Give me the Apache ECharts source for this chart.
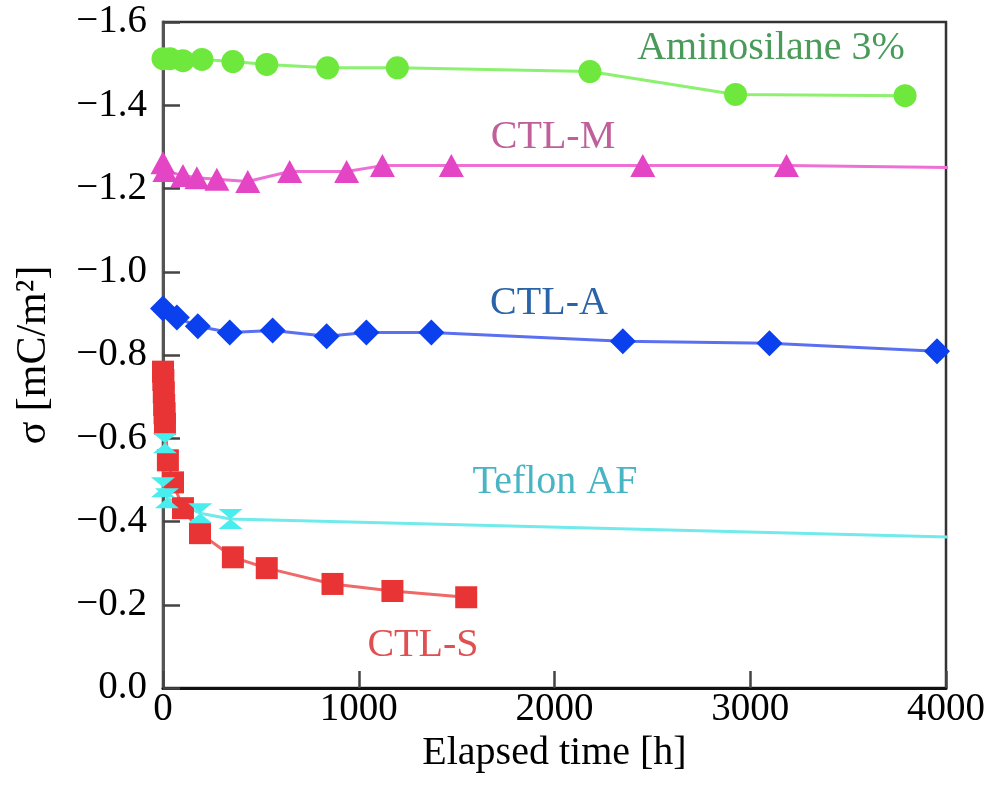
<!DOCTYPE html>
<html style="height: 100%">
<head>
<meta charset="utf-8">
<script src="https://cdn.jsdelivr.net/npm/echarts@6/dist/echarts.min.js"></script>
</head>
<body style="height: 100%; margin: 0; background: #fff">
<div id="container" style="width: 988px; height: 800px"></div>
<script>
// elapsed time [h] and surface charge [mC/m2] per coating
var amTime = [0, 36, 102, 199, 357, 530, 841, 1197, 2181, 2925, 3791];
var amSigma = [-1.512, -1.512, -1.507, -1.51, -1.505, -1.498, -1.49, -1.49, -1.481, -1.426, -1.423];

var ctlMTime = [0, 10, 102, 173, 275, 433, 647, 938, 1121, 1473, 2451, 3185, 4400];
var ctlMSigma = [-1.262, -1.243, -1.231, -1.226, -1.222, -1.217, -1.241, -1.241, -1.255, -1.255, -1.255, -1.255, -1.248];

var ctlATime = [0, 71, 178, 341, 560, 836, 1039, 1371, 2349, 3098, 3954];
var ctlASigma = [-0.912, -0.89, -0.869, -0.854, -0.859, -0.845, -0.854, -0.854, -0.833, -0.828, -0.809];

var teflonTime = [10, 0, 20, 190, 345, 4400];
var teflonSigma = [-0.588, -0.482, -0.456, -0.42, -0.406, -0.358];

var ctlSTime = [0, 2, 4, 6, 8, 10, 25, 51, 102, 189, 357, 530, 866, 1172, 1549];
var ctlSSigma = [-0.76, -0.74, -0.71, -0.68, -0.66, -0.635, -0.547, -0.494, -0.432, -0.372, -0.314, -0.288, -0.25, -0.233, -0.218];

var xTicks = [0, 1000, 2000, 3000, 4000];
var yTicks = [-1.6, -1.4, -1.2, -1.0, -0.8, -0.6, -0.4, -0.2, 0.0];

function zip(t, s) {
  var res = [];
  for (var i = 0; i < t.length; i++) res.push([t[i], s[i]]);
  return res;
}

var font = '"Liberation Serif", "DejaVu Serif", serif';
var hourglass = 'path://M0,0 L20,0 L10,10 L20,20 L0,20 L10,10 Z';

var chart = echarts.init(document.getElementById('container'));

function lineSeries(name, data, symbol, size, mColor, lColor) {
  return {
    name: name,
    type: 'line',
    data: data,
    symbol: symbol,
    symbolSize: size,
    showAllSymbol: true,
    clip: true,
    itemStyle: { color: mColor },
    lineStyle: { color: lColor, width: 3 },
    animation: false
  };
}

var labelStyle = function (text, x, y, color) {
  return {
    type: 'text', x: x, y: y,
    style: {
      text: text, fill: color, font: '40px ' + font,
      textAlign: 'center', textVerticalAlign: 'middle'
    }
  };
};

var option = {
  backgroundColor: '#ffffff',
  grid: {
    left: 163, right: 40, top: 22, bottom: 112,
    show: true, borderColor: '#333', borderWidth: 2.5
  },
  xAxis: {
    type: 'value',
    min: xTicks[0], max: xTicks[xTicks.length - 1], interval: 1000,
    name: 'Elapsed time [h]',
    nameLocation: 'middle',
    nameGap: 28,
    nameTextStyle: { fontFamily: font, fontSize: 40, color: '#000' },
    axisLine: { lineStyle: { color: '#111', width: 3 } },
    axisTick: { inside: true, length: 17, lineStyle: { color: '#444', width: 2.5 } },
    axisLabel: {
      fontFamily: font, fontSize: 39, color: '#000', margin: 2,
      formatter: function (v) { return String(v); }
    },
    splitLine: { show: false }
  },
  yAxis: {
    type: 'value',
    inverse: true,
    min: yTicks[0], max: yTicks[yTicks.length - 1], interval: 0.2,
    name: 'σ [mC/m²]',
    nameLocation: 'middle',
    nameGap: 108,
    nameTextStyle: { fontFamily: font, fontSize: 42, color: '#000' },
    axisLine: { lineStyle: { color: '#555', width: 3 } },
    axisTick: { inside: true, length: 17, lineStyle: { color: '#444', width: 2.5 } },
    axisLabel: {
      fontFamily: font, fontSize: 39, color: '#000', margin: 16,
      formatter: function (v) {
        if (Math.abs(v) < 1e-9) return '0.0';
        return '\u2212' + Math.abs(v).toFixed(1);
      }
    },
    splitLine: { show: false }
  },
  series: [
    lineSeries('Aminosilane 3%', zip(amTime, amSigma), 'circle', 23, '#6ee83c', '#8cf070'),
    lineSeries('CTL-M', zip(ctlMTime, ctlMSigma), 'triangle', [25, 23], '#e445c4', '#ee70d4'),
    lineSeries('CTL-A', zip(ctlATime, ctlASigma), 'diamond', 26, '#0a40ee', '#5a70f0'),
    lineSeries('CTL-S', zip(ctlSTime, ctlSSigma), 'rect', 22, '#e83434', '#f06868'),
    lineSeries('Teflon AF', zip(teflonTime, teflonSigma), hourglass, [24, 20], '#48eeee', '#70eaea')
  ],
  graphic: [
    labelStyle('Aminosilane 3%', 771, 48, '#4a9a5a'),
    labelStyle('CTL-M', 553, 137, '#c0609a'),
    labelStyle('CTL-A', 549, 303, '#2a64a8'),
    labelStyle('Teflon AF', 555, 482, '#48b4c4'),
    labelStyle('CTL-S', 423, 645, '#e05050')
  ]
};

chart.setOption(option);
</script>
</body>
</html>
